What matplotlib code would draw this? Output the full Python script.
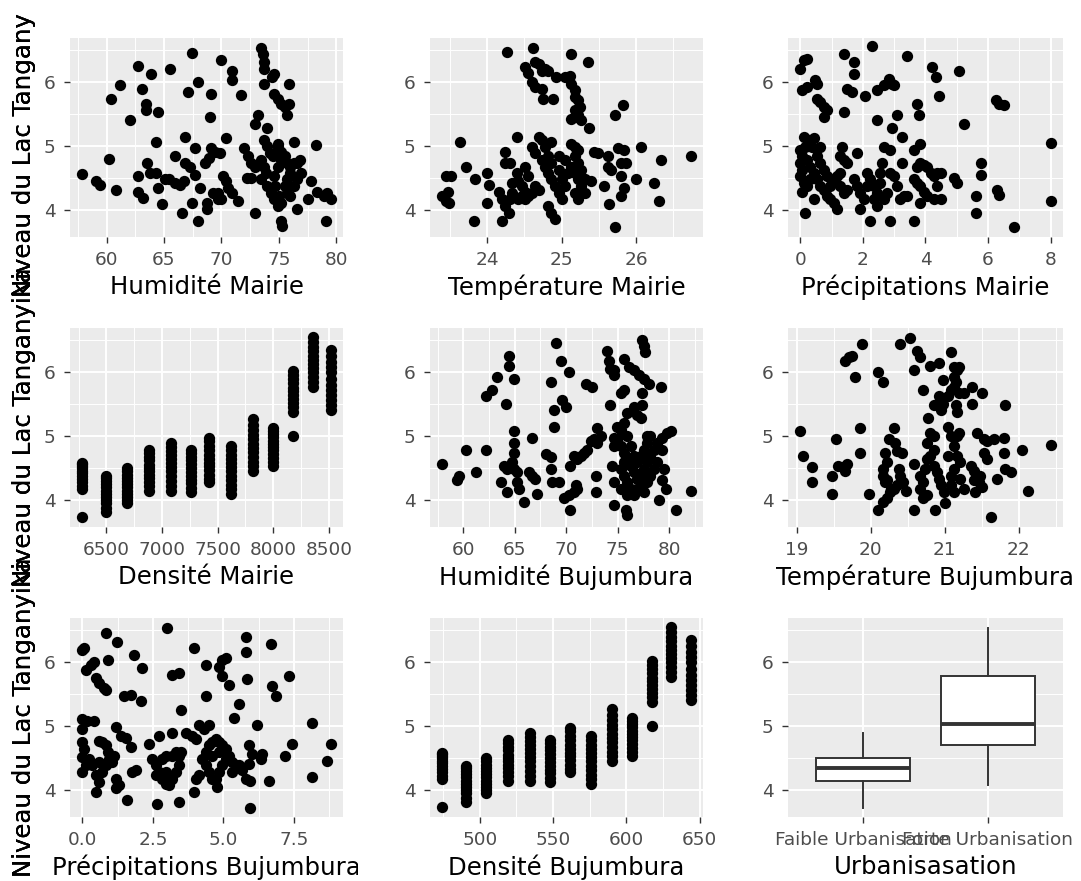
import matplotlib
matplotlib.use("Agg")
import matplotlib.pyplot as plt
from matplotlib.patches import Rectangle
from matplotlib.ticker import MultipleLocator
from matplotlib.transforms import Bbox, TransformedBbox

plt.rcParams['font.family'] = ['DejaVu Sans']

Y_LABEL = "Niveau du Lac Tanganyika"

# ---- Humidité Mairie ----
hum_mairie_x = [57.9,59.1,59.4,60.2,60.4,60.8,61.2,62.0,62.7,62.7,62.7,63.2,63.1,63.4,63.4,63.5,63.9,63.8,64.3,64.5,
    64.3,64.5,64.8,65.1,65.4,65.5,66.0,66.0,66.4,66.7,66.8,66.8,67.3,67.1,66.6,67.4,67.4,67.7,67.7,68.0,
    68.0,68.1,68.7,68.7,68.6,68.9,69.1,69.4,69.1,69.0,69.3,69.7,69.7,70.0,69.9,70.0,70.1,70.4,70.6,70.9,
    70.4,70.9,70.9,71.4,71.7,72.0,72.3,72.6,72.9,72.2,72.6,72.9,72.9,73.2,73.4,73.6,73.7,73.7,73.7,74.4,
    74.6,74.0,73.7,74.0,74.2,73.4,73.7,73.9,73.4,74.0,74.3,74.6,74.9,75.2,75.0,74.7,74.6,74.9,75.2,75.5,
    75.7,76.0,76.3,76.6,76.0,75.7,75.5,75.7,76.0,76.3,76.6,76.9,76.8,74.9,74.9,75.2,74.5,74.6,74.9,75.2,
    75.5,75.9,75.9,75.7,75.2,75.3,76.3,76.6,77.5,78.2,77.8,78.3,78.9,79.5,79.1,79.2]
hum_mairie_y = [4.57,4.45,4.40,4.80,5.74,4.31,5.95,5.41,6.26,4.53,4.28,4.19,5.90,5.66,5.57,4.73,6.13,4.58,4.58,5.53,
    5.07,4.35,4.10,4.48,4.48,6.21,4.84,4.42,4.40,4.45,5.15,4.73,4.68,5.85,3.96,6.45,4.11,4.97,4.55,6.00,
    3.83,4.35,4.11,4.01,4.73,4.81,4.97,4.91,5.82,5.46,4.27,4.27,4.17,4.17,4.89,6.34,4.53,4.45,4.35,4.27,
    5.12,6.18,6.03,4.14,5.80,4.97,4.84,4.73,4.68,4.50,4.50,3.96,5.35,5.48,6.54,6.44,6.31,6.21,5.97,6.08,
    6.13,5.28,5.10,5.00,4.89,4.79,4.68,4.58,4.48,4.37,4.27,4.17,4.06,4.11,4.22,4.37,4.53,4.68,4.79,4.84,
    4.73,4.68,4.73,4.73,4.58,4.48,4.37,4.27,4.22,4.37,4.48,4.58,4.79,4.99,5.04,4.91,4.84,5.82,5.74,5.66,
    5.61,5.97,5.66,5.48,3.83,3.75,5.07,4.01,4.17,5.02,4.45,4.29,4.22,4.17,3.83,4.27]

# ---- Température Mairie ----
temp_mairie_x = [23.40,23.45,23.49,23.47,23.45,23.51,23.64,23.71,23.82,23.84,24.00,24.02,24.00,24.16,24.20,24.20,24.24,24.29,24.31,24.33,
    24.24,24.24,24.31,24.27,24.40,24.33,24.42,24.47,24.51,24.51,24.55,24.60,24.64,24.69,24.42,24.47,24.40,24.51,24.55,24.51,
    24.55,24.60,24.64,24.64,24.62,24.69,24.73,24.78,24.73,24.75,24.60,24.64,24.69,24.73,24.78,24.82,24.86,24.73,24.78,24.82,
    24.86,24.91,24.96,25.00,24.86,24.96,25.00,25.04,25.09,25.13,25.04,24.96,24.82,24.86,24.91,24.82,24.93,25.04,25.11,25.13,
    25.35,24.89,25.13,25.18,25.18,25.22,25.24,25.18,25.22,25.26,25.18,25.13,25.37,25.13,25.18,25.22,25.18,25.22,25.26,25.18,
    25.22,25.26,25.31,25.22,25.18,25.31,25.40,25.44,25.49,25.62,25.57,25.62,25.66,25.64,25.71,25.71,25.82,25.75,25.84,25.80,
    25.86,25.80,25.84,25.80,26.00,26.06,26.24,26.33,26.31,26.73]
temp_mairie_y = [4.22,4.14,4.11,4.29,4.53,4.53,5.07,4.68,3.83,4.48,4.58,4.40,4.11,4.29,4.17,3.83,4.06,3.96,4.17,4.27,
    4.91,4.73,4.73,6.47,5.15,4.42,4.45,4.37,4.29,4.17,4.22,4.27,4.37,4.32,4.17,4.22,4.58,4.68,4.53,6.23,
    6.15,6.00,5.92,6.31,6.54,6.29,6.18,6.21,5.90,5.74,4.99,4.89,5.15,5.10,4.99,4.84,5.07,4.79,4.68,4.58,
    4.48,4.37,4.27,4.17,4.73,4.63,4.48,4.37,4.58,4.68,4.79,4.84,4.06,3.96,3.86,6.18,6.08,6.08,6.10,6.44,
    6.31,5.74,5.97,5.87,5.77,5.72,5.61,5.56,5.48,5.41,5.46,5.43,5.28,5.04,4.99,4.94,4.84,4.73,4.63,4.58,
    4.48,4.37,4.27,4.17,4.27,4.48,4.45,4.91,4.89,4.84,4.37,4.68,4.63,4.09,3.74,5.48,5.64,4.97,4.94,4.73,
    4.73,4.53,4.35,4.22,4.48,4.99,4.42,4.79,4.14,4.85]

# ---- Précipitations Mairie ----
prec_mairie_x = [0.00,0.05,0.00,0.05,0.00,0.11,0.05,0.16,0.27,0.37,0.21,0.32,0.43,0.53,0.64,0.21,0.32,0.53,0.64,0.75,
    0.85,0.64,0.43,0.11,0.16,0.00,0.11,0.21,0.05,0.21,0.48,0.53,0.53,0.64,0.75,0.85,0.75,0.43,0.75,0.85,
    0.96,1.07,1.17,0.96,1.07,1.17,1.28,1.28,1.39,1.49,1.39,1.28,1.33,1.49,1.39,1.39,1.49,1.65,1.71,1.71,
    1.81,1.71,1.81,1.92,1.92,2.03,2.13,2.13,2.24,2.35,2.35,2.45,2.56,2.67,2.77,2.45,2.56,2.08,2.24,2.29,
    2.45,2.67,2.83,2.93,2.99,2.45,2.61,2.67,2.88,2.88,2.93,3.09,3.25,2.88,2.99,3.09,3.20,3.31,3.42,3.25,
    3.42,3.63,3.63,3.74,3.84,3.95,3.84,3.74,3.84,3.95,4.06,4.16,4.27,4.38,4.48,4.38,4.48,4.27,4.06,3.63,
    3.84,3.74,3.79,4.22,4.32,4.43,4.91,5.02,5.07,5.23,5.60,5.60,5.76,5.76,6.24,6.35,6.51,6.30,6.35,6.83,
    8.00,8.00]
prec_mairie_y = [4.94,4.84,4.73,4.63,4.53,4.42,4.29,4.99,5.10,4.99,4.79,4.68,4.58,4.48,4.37,4.37,4.48,4.84,4.73,4.63,
    4.53,4.99,5.12,5.15,3.96,6.21,6.34,6.36,5.87,5.92,6.03,5.97,5.74,5.69,5.61,5.56,5.46,4.17,4.32,4.22,
    4.17,4.11,4.01,4.37,4.48,4.53,4.58,4.37,4.27,4.32,4.79,4.84,4.99,4.73,6.44,5.53,5.90,5.85,6.31,6.13,
    4.89,4.48,4.37,4.27,4.01,4.17,4.37,4.58,4.48,4.37,4.17,4.27,4.42,4.17,4.27,4.06,4.58,5.79,3.83,6.57,
    5.87,5.95,6.05,5.97,5.95,5.41,4.73,4.99,4.94,3.83,5.28,5.48,5.15,4.58,4.53,4.37,4.17,4.22,4.22,4.73,
    6.41,3.83,4.48,4.42,4.37,4.29,4.11,4.68,4.73,4.71,4.68,4.58,4.53,4.58,4.58,4.37,4.17,4.17,4.22,4.94,
    5.04,5.66,5.48,6.23,6.08,5.79,4.50,4.42,6.18,5.35,3.96,4.22,4.73,4.55,5.72,5.66,5.64,4.32,4.24,3.73,
    5.05,4.14]

# ---- Densité (13 années x 12 mois) ----
densite_mairie = [6284, 6494, 6689, 6883, 7078, 7257, 7422, 7617, 7814, 7994, 8173, 8353, 8515]
densite_bujumbura = [474.5, 490.5, 504.5, 519.3, 534.1, 548.2, 561.8, 576.1, 590.5, 604.1, 617.7, 630.7, 643.9]
niveau_annuel = [
    [3.73,4.18,4.22,4.28,4.33,4.38,4.42,4.46,4.50,4.53,4.56,4.58],
    [3.82,3.88,3.95,4.00,4.05,4.10,4.15,4.20,4.25,4.30,4.34,4.38],
    [3.95,4.00,4.05,4.10,4.15,4.20,4.25,4.30,4.35,4.40,4.45,4.50],
    [4.15,4.22,4.28,4.35,4.40,4.45,4.50,4.55,4.62,4.68,4.74,4.79],
    [4.15,4.22,4.30,4.38,4.45,4.52,4.58,4.64,4.70,4.76,4.83,4.90],
    [4.13,4.19,4.26,4.32,4.38,4.44,4.50,4.56,4.62,4.68,4.74,4.79],
    [4.28,4.33,4.40,4.47,4.53,4.58,4.64,4.70,4.78,4.85,4.92,4.97],
    [4.10,4.17,4.24,4.31,4.38,4.45,4.52,4.58,4.64,4.71,4.78,4.85],
    [4.46,4.53,4.60,4.68,4.75,4.82,4.88,4.95,5.02,5.10,5.18,5.27],
    [4.54,4.60,4.66,4.72,4.78,4.83,4.88,4.93,4.98,5.03,5.08,5.13],
    [5.00,5.38,5.45,5.52,5.58,5.64,5.70,5.76,5.83,5.90,5.96,6.02],
    [5.77,5.85,5.92,6.00,6.07,6.13,6.19,6.26,6.33,6.40,6.47,6.55],
    [5.41,5.48,5.56,5.64,5.72,5.80,5.90,6.00,6.08,6.16,6.25,6.35],
]

# ---- Humidité Bujumbura ----
hum_buj_x = [57.96,59.42,59.58,60.23,61.20,62.17,62.82,63.31,62.17,63.63,63.95,64.28,64.28,64.10,64.44,64.44,64.90,64.90,64.90,64.90,
    64.76,64.90,65.26,65.26,65.40,65.90,66.40,66.70,67.00,67.20,66.70,68.00,68.50,68.50,68.65,69.30,68.50,68.80,68.80,68.97,
    69.47,69.60,69.95,69.79,70.27,70.40,70.76,70.92,71.08,70.27,70.40,70.76,71.08,71.40,71.73,72.06,71.90,72.50,72.38,72.70,
    73.03,73.03,73.35,72.87,72.87,74.00,74.15,74.30,74.65,74.65,74.30,74.65,74.65,74.50,74.65,74.65,74.98,75.30,75.60,75.30,
    75.62,75.62,76.10,76.60,77.10,77.57,78.05,75.95,76.60,76.92,77.40,77.40,77.24,77.40,77.57,77.70,75.95,75.80,79.19,74.98,
    75.30,75.62,75.95,76.27,76.60,76.92,77.24,77.57,75.30,75.62,75.95,76.27,76.60,76.92,77.24,77.57,77.89,78.20,78.54,78.87,
    78.20,77.89,77.57,77.24,76.92,76.60,76.27,75.95,75.62,75.95,75.30,77.89,78.20,78.54,78.87,77.89,79.35,79.35,79.50,79.35,
    79.67,79.03,79.84,80.16,80.65,82.10]
hum_buj_y = [4.56,4.31,4.38,4.79,4.44,5.63,5.72,5.93,4.79,4.28,4.54,4.49,4.13,5.51,6.10,6.26,5.90,5.08,4.90,4.74,
    4.59,4.49,4.44,4.28,4.18,3.97,4.44,4.38,4.33,4.10,4.97,4.72,4.67,4.49,4.28,4.28,5.85,5.41,5.15,6.46,
    6.18,5.56,5.46,4.03,4.08,3.85,4.13,4.23,4.18,6.00,4.54,4.69,4.64,4.69,4.74,4.79,5.82,5.77,4.92,4.95,
    4.90,5.13,5.00,4.38,4.13,6.33,6.18,6.05,5.95,6.03,5.49,4.97,4.85,4.54,4.28,3.92,5.15,5.10,5.21,5.67,
    5.72,6.21,6.08,6.03,5.95,5.90,5.82,5.36,5.46,5.33,5.49,5.67,5.28,6.51,6.41,6.31,3.77,3.85,5.77,4.95,
    4.85,4.74,4.64,4.54,4.44,4.33,4.23,4.13,4.49,4.38,4.28,4.18,4.08,4.18,4.38,4.49,4.59,4.69,4.79,4.90,
    5.00,4.90,4.79,4.69,4.59,4.69,4.85,5.00,4.59,4.08,4.18,4.28,4.38,4.49,4.59,5.00,4.97,4.79,4.49,4.31,
    4.18,4.00,5.05,5.08,3.85,4.15]

# ---- Température Bujumbura ----
temp_buj_x = [19.05,19.09,19.20,19.20,19.47,19.47,19.53,19.56,19.63,19.68,19.65,19.65,19.70,19.74,19.79,19.86,19.86,19.88,19.97,20.10,
    20.17,20.10,20.17,20.22,20.26,20.28,20.17,20.17,20.19,20.22,20.22,20.19,20.24,20.31,20.33,20.35,20.42,20.31,20.35,20.40,
    20.44,20.47,20.38,20.40,20.53,20.62,20.67,20.58,20.80,20.92,21.08,20.71,20.58,20.58,20.67,20.71,20.67,20.76,20.71,20.76,
    20.80,20.85,20.85,20.80,20.76,20.73,20.85,20.89,20.92,20.95,20.99,20.87,21.00,20.78,20.85,20.92,20.97,20.97,20.95,21.04,
    21.08,21.13,21.13,21.17,21.13,21.19,21.15,21.19,21.15,21.17,21.04,21.08,21.13,21.17,21.21,21.13,21.08,21.04,21.17,21.19,
    21.21,21.26,21.08,21.13,21.26,21.37,21.37,21.50,21.35,21.39,21.39,21.41,21.46,21.48,21.50,21.44,21.53,21.57,21.66,21.80,
    21.53,21.57,21.62,21.71,21.80,21.82,21.89,21.82,22.05,22.13,22.43]
temp_buj_y = [5.08,4.69,4.51,4.28,4.10,4.38,4.95,4.54,4.51,4.56,4.46,6.18,6.23,6.26,5.92,5.13,4.74,6.44,4.10,6.00,
    5.85,3.85,3.97,4.03,4.13,4.18,4.49,4.38,4.28,4.31,4.59,4.74,4.95,5.13,4.90,4.77,4.74,4.18,4.23,4.38,
    4.28,4.15,4.49,6.44,6.54,6.33,6.23,6.03,6.10,6.15,6.31,5.72,4.56,3.85,4.38,4.28,4.18,4.08,4.03,4.90,
    5.05,5.00,4.79,4.69,4.64,4.49,4.54,4.44,4.33,4.23,4.13,3.85,3.95,5.28,5.49,5.62,5.51,5.87,5.41,5.62,
    5.72,5.77,5.92,6.03,6.08,6.08,5.85,5.67,5.49,5.38,5.15,5.00,4.85,4.69,4.59,4.49,4.38,4.69,5.00,5.05,
    4.33,4.18,4.23,4.13,5.67,5.77,5.51,5.67,4.54,4.46,4.31,4.13,4.28,4.38,4.21,5.05,4.95,4.92,4.95,4.97,
    4.74,4.64,3.74,4.33,4.74,4.49,4.44,5.49,4.79,4.15,4.86]

# ---- Précipitations Bujumbura ----
prec_buj_x = [0.00,0.06,0.12,0.30,0.41,0.47,0.59,0.77,0.83,0.83,0.89,1.24,0.00,0.18,0.41,0.00,0.00,0.06,0.00,0.12,
    0.00,0.24,0.35,0.47,0.59,0.47,0.59,0.71,0.83,0.89,0.94,0.83,0.71,0.59,1.06,1.18,1.18,1.30,1.12,1.18,
    1.36,1.53,1.71,1.59,1.48,1.71,2.07,1.83,2.13,1.77,1.89,2.36,2.48,2.60,2.72,2.83,2.95,3.07,3.19,3.31,
    3.42,3.42,3.31,3.19,2.95,2.83,2.72,3.19,2.60,2.95,3.07,2.66,3.42,3.01,3.19,3.42,3.48,3.48,3.66,3.90,
    4.01,4.13,4.31,4.49,3.96,4.01,4.13,3.96,4.37,4.37,4.25,4.37,4.49,4.60,4.72,4.84,4.96,5.08,5.19,5.31,
    5.08,4.96,4.84,4.72,4.78,4.60,4.49,4.37,4.60,4.84,5.31,5.43,5.55,5.67,5.79,4.84,4.96,5.08,4.96,5.19,
    5.37,5.55,5.79,5.79,5.84,5.90,6.02,5.90,5.96,5.96,6.20,6.32,6.38,6.61,6.73,6.85,6.67,7.20,7.44,7.32,
    8.15,8.15,8.68,8.80]
prec_buj_y = [6.19,6.22,5.88,5.96,6.01,5.75,5.68,5.60,5.57,6.45,6.04,6.32,5.11,5.08,5.08,4.95,4.75,4.64,4.52,4.39,
    4.28,4.49,4.39,4.23,4.13,3.97,4.77,4.75,4.70,4.59,4.49,4.39,4.28,4.44,4.44,4.18,4.03,4.08,4.54,4.98,
    4.85,4.82,4.67,3.85,5.47,5.49,5.39,6.11,5.91,4.28,4.31,4.72,4.49,4.39,4.28,4.18,4.10,4.08,4.18,4.28,
    4.39,4.54,4.59,4.54,4.54,4.49,4.85,4.90,4.23,4.28,4.18,3.79,3.82,6.53,5.80,5.83,5.26,4.59,4.90,4.85,
    4.80,5.01,4.95,5.01,6.22,4.18,4.23,3.97,5.96,5.47,4.49,4.59,4.70,4.75,4.80,4.75,4.70,4.64,4.54,4.44,
    4.49,4.39,4.28,4.18,4.05,4.18,4.28,4.39,4.54,4.59,4.28,4.39,4.39,4.31,4.18,5.93,6.04,6.06,5.78,5.65,
    5.13,5.34,6.40,6.16,5.73,4.70,4.57,4.41,4.15,3.72,5.01,4.49,4.57,4.15,5.62,5.47,6.29,4.54,4.72,5.78,
    5.05,4.21,4.46,4.72]

# ---- Urbanisation (boxplot statistics) ----
urb_categories = ["Faible Urbanisation", "Forte Urbanisation"]
urb_whislo = [3.72, 4.08]
urb_q1 = [4.15, 4.70]
urb_med = [4.34, 5.03]
urb_q3 = [4.50, 5.79]
urb_whishi = [4.90, 6.53]

# ------------------------------------------------------------------
W, H = 1081, 881
fig = plt.figure(figsize=(W / 100, H / 100), dpi=100)
fig.patch.set_facecolor("white")

col_left = [70, 430, 788]
col_width = [273, 273, 275]
row_top = [38, 328, 618]
row_height = 199
YLIM = (3.58, 6.69)

TXT = "#4D4D4D"
TICK = "#333333"
LABEL_SIZE = 17.6
TICK_SIZE = 13.3


def make_axes(i):
    r, c = divmod(i, 3)
    # white cell background (covers horizontally overflowing text of the previous cell)
    cell_h = 1 / 3 - 12 / H
    rect = Rectangle((c / 3 - 2 / W, 1 - (r + 1) / 3), 1 / 3, cell_h, transform=fig.transFigure,
                     facecolor="white", edgecolor="none", zorder=2 * i)
    fig.add_artist(rect)
    left = col_left[c] / W
    bottom = 1 - (row_top[r] + row_height) / H
    ax = fig.add_axes([left, bottom, col_width[c] / W, row_height / H])
    ax.set_zorder(2 * i + 1)
    ax.set_facecolor("#EBEBEB")
    for s in ax.spines.values():
        s.set_visible(False)
    ax.set_axisbelow(True)
    ax.grid(which="major", color="white", linewidth=1.4)
    ax.grid(which="minor", color="white", linewidth=0.7)
    ax.tick_params(which="major", length=4.3, width=1.0, color=TICK, labelcolor=TXT,
                   labelsize=TICK_SIZE, pad=6)
    ax.tick_params(which="minor", length=0)
    ax.set_ylim(*YLIM)
    ax.yaxis.set_major_locator(MultipleLocator(1))
    ax.yaxis.set_minor_locator(MultipleLocator(0.5))
    ax.set_ylabel(Y_LABEL, fontsize=LABEL_SIZE, color="black")
    ax.yaxis.set_label_coords((36 - col_left[c]) / col_width[c], 0.5)
    if r == 0:
        clip = TransformedBbox(Bbox([[0, 0], [1, (H - 13) / H]]), fig.transFigure)
        ax.yaxis.label.set_clip_box(clip)
        ax.yaxis.label.set_clip_on(True)
    return ax


def finish_x(ax, label, major, minor):
    ax.xaxis.set_major_locator(MultipleLocator(major))
    if minor:
        ax.xaxis.set_minor_locator(MultipleLocator(minor))
    ax.set_xlabel(label, fontsize=LABEL_SIZE, color="black")
    ax.xaxis.set_label_coords(0.5, -0.189)


def scatter_panel(i, x, y, label, major, minor):
    ax = make_axes(i)
    ax.scatter(x, y, s=66, color="black", linewidths=0)
    ax.margins(x=0.05)
    finish_x(ax, label, major, minor)
    return ax


def repeat_years(values):
    xs, ys = [], []
    for v, levels in zip(values, niveau_annuel):
        xs += [v] * len(levels)
        ys += levels
    return xs, ys


scatter_panel(0, hum_mairie_x, hum_mairie_y, "Humidité Mairie", 5, 2.5)
scatter_panel(1, temp_mairie_x, temp_mairie_y, "Température Mairie", 1, 0.5)
scatter_panel(2, prec_mairie_x, prec_mairie_y, "Précipitations Mairie", 2, 1)
dx, dy = repeat_years(densite_mairie)
scatter_panel(3, dx, dy, "Densité Mairie", 500, 250)
scatter_panel(4, hum_buj_x, hum_buj_y, "Humidité Bujumbura", 5, 2.5)
scatter_panel(5, temp_buj_x, temp_buj_y, "Température Bujumbura", 1, 0.5)
scatter_panel(6, prec_buj_x, prec_buj_y, "Précipitations Bujumbura", 2.5, 1.25)
bx, by = repeat_years(densite_bujumbura)
scatter_panel(7, bx, by, "Densité Bujumbura", 50, 25)

# boxplot
ax = make_axes(8)
stats = []
for k in range(len(urb_categories)):
    stats.append(dict(med=urb_med[k], q1=urb_q1[k], q3=urb_q3[k],
                      whislo=urb_whislo[k], whishi=urb_whishi[k], fliers=[]))
ax.bxp(stats, positions=[1, 2], widths=0.75, patch_artist=True, showcaps=False,
       showfliers=False,
       boxprops=dict(facecolor="white", edgecolor=TICK, linewidth=1.4),
       whiskerprops=dict(color=TICK, linewidth=1.4),
       medianprops=dict(color=TICK, linewidth=2.8))
ax.set_xlim(0.4, 2.6)
ax.set_xticks([1, 2])
ax.set_xticklabels(urb_categories)
ax.set_xlabel("Urbanisasation", fontsize=LABEL_SIZE, color="black")
ax.xaxis.set_label_coords(0.5, -0.189)

fig.savefig("out.png", dpi=100, facecolor="white")
